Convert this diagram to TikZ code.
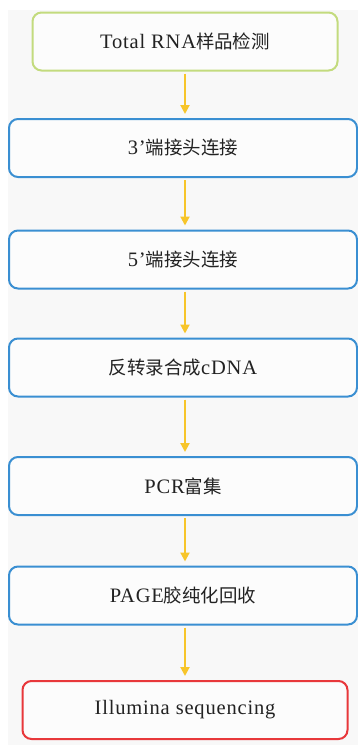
\documentclass[tikz,border=0pt]{standalone}
\usepackage{fontspec}
\setmainfont{Liberation Serif}[LetterSpace=4]
\newfontfamily\cjk{Noto Sans CJK SC}[Scale=0.9]
\usetikzlibrary{arrows.meta}
\definecolor{bgc}{HTML}{F8F8F8}
\definecolor{greenb}{HTML}{C3DB7E}
\definecolor{blueb}{HTML}{3A8FD2}
\definecolor{redb}{HTML}{E8383B}
\definecolor{arrowc}{HTML}{F7C52A}
\definecolor{txt}{HTML}{222222}
\tikzset{
  stepbox/.style={draw, line width=2pt, rounded corners=9pt, fill=white!60!bgc,
    minimum height=58pt, text=txt, font=\fontsize{20.5}{22}\selectfont, inner sep=0pt},
  greenbox/.style={stepbox, draw=greenb, minimum width=305pt},
  bluebox/.style={stepbox, draw=blueb, minimum width=348pt},
  redbox/.style={stepbox, draw=redb, minimum width=325pt},
  flow/.style={draw=arrowc, line width=2pt, -{Triangle[width=9pt,length=9pt]}, shorten >=4pt, shorten <=2pt}
}
\begin{document}
\begin{tikzpicture}[x=1pt,y=-1pt]
\useasboundingbox (0,0) rectangle (358,745);
\fill[bgc] (8,10) rectangle (358,745);
\node[greenbox] (n1) at (185,41.5) {Total RNA{\cjk 样品检测}};
\node[bluebox]  (n2) at (183,148) {3’{\cjk 端接头连接}};
\node[bluebox]  (n3) at (183,259.5) {5’{\cjk 端接头连接}};
\node[bluebox]  (n4) at (183,367.5) {{\cjk 反转录合成}cDNA};
\node[bluebox]  (n5) at (183,486) {PCR{\cjk 富集}};
\node[bluebox]  (n6) at (183,595.5) {PAGE{\cjk 胶纯化回收}};
\node[redbox]   (n7) at (185,710) {Illumina sequencing};
\foreach \a/\b in {n1/n2,n2/n3,n3/n4,n4/n5,n5/n6,n6/n7}
  \draw[flow] (\a.south -| 185,0) -- (\b.north -| 185,0);
\end{tikzpicture}
\end{document}
